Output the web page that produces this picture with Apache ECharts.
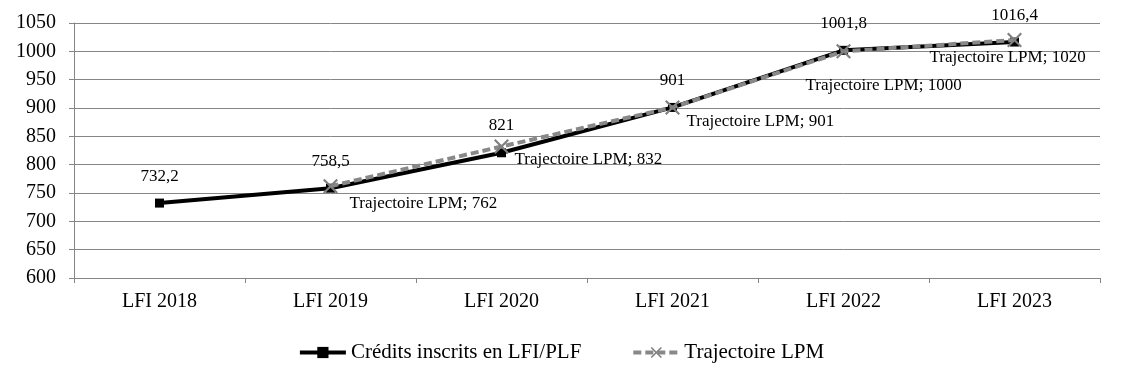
<!DOCTYPE html>
<html><head><meta charset="utf-8">
<script src="https://cdn.jsdelivr.net/npm/echarts@6/dist/echarts.min.js"></script>
<style>html,body{margin:0;padding:0;background:#fff}#c{width:1122px;height:382px}</style>
</head><body><div id="c"></div>
<script>
const categories = ['LFI 2018','LFI 2019','LFI 2020','LFI 2021','LFI 2022','LFI 2023'];
const credits = [732.2, 758.5, 821, 901, 1001.8, 1016.4];
const lpm = [null, 762, 832, 901, 1000, 1020];
const seriesNames = ['Crédits inscrits en LFI/PLF', 'Trajectoire LPM'];
const lpmLabelOffsets = [null, [19,17], [13,13], [14,14], [-38,34], [-85,18]];

const FONT = '"Liberation Serif", serif';
const X_PATH = 'path://M0,1 L1,0 L5,4 L9,0 L10,1 L6,5 L10,9 L9,10 L5,6 L1,10 L0,9 L4,5 Z';

const chart = echarts.init(document.getElementById('c'));
chart.setOption({
  animation: false,
  textStyle: {fontFamily: FONT, color: '#000'},
  grid: {left: 74, right: 22, top: 23, bottom: 104, containLabel: false},
  legend: {
    bottom: 14, left: 'center', itemGap: 50, itemWidth: 46, itemHeight: 14,
    textStyle: {fontFamily: FONT, fontSize: 21, color: '#000'},
    lineStyle: {width: 4},
    data: [seriesNames[0], seriesNames[1]]
  },
  xAxis: {
    type: 'category', data: categories, boundaryGap: true,
    axisLine: {lineStyle: {color: '#868686'}},
    axisTick: {show: true, length: 5, lineStyle: {color: '#868686'}},
    axisLabel: {fontFamily: FONT, fontSize: 20, color: '#000', margin: 14}
  },
  yAxis: {
    type: 'value', min: 600, max: 1050, interval: 50,
    axisLine: {show: true, lineStyle: {color: '#868686'}},
    axisTick: {show: true, length: 5, lineStyle: {color: '#868686'}},
    splitLine: {lineStyle: {color: '#868686', width: 1}},
    axisLabel: {fontFamily: FONT, fontSize: 20, color: '#000', margin: 18, formatter: v => String(v)}
  },
  series: [
    {
      name: seriesNames[0], type: 'line', data: credits,
      symbol: 'rect', symbolSize: 9,
      lineStyle: {color: '#000', width: 4},
      itemStyle: {color: '#000'},
      label: {show: true, position: 'top', distance: 14, fontFamily: FONT, fontSize: 17, color: '#000',
        formatter: p => String(p.value).replace('.', ',')},
      z: 2
    },
    {
      name: seriesNames[1], type: 'line',
      data: lpm.map((v, i) => v === null ? null : {
        value: v,
        label: {offset: lpmLabelOffsets[i]}
      }),
      symbol: X_PATH, symbolSize: 15, showSymbol: true,
      lineStyle: {color: '#888888', width: 4, type: [8, 4]},
      itemStyle: {color: '#7f7f7f'},
      label: {show: true, position: 'inside', align: 'left', verticalAlign: 'middle',
        fontFamily: FONT, fontSize: 17, color: '#000',
        formatter: p => seriesNames[1] + '; ' + p.value},
      z: 3
    }
  ]
});
</script></body></html>
